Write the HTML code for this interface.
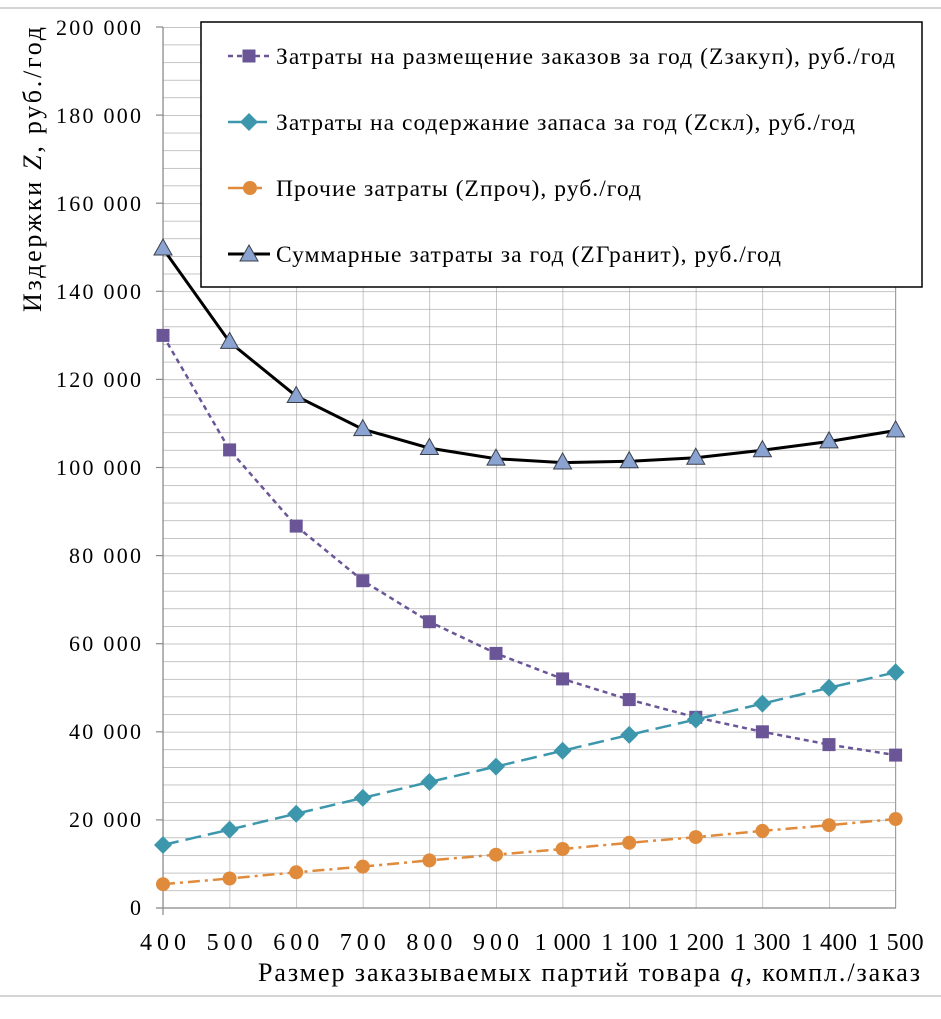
<!DOCTYPE html>
<html><head><meta charset="utf-8"><style>
html,body{margin:0;padding:0;background:#fff}
text{font-family:"Liberation Serif",serif;fill:#000}
</style></head><body>
<svg width="941" height="1014" viewBox="0 0 941 1014" xmlns="http://www.w3.org/2000/svg">
<defs>
<pattern id="g" x="163" y="908" width="66.6" height="17.62" patternUnits="userSpaceOnUse">
<path d="M0 0H66.6M0 0V17.62" stroke="#a0a0a0" stroke-width="1.2" fill="none"/>
</pattern>
</defs>
<line x1="0" y1="8" x2="941" y2="8" stroke="#aaa" stroke-width="1"/>
<line x1="0" y1="996" x2="941" y2="996" stroke="#aaa" stroke-width="1"/>
<rect x="163" y="27" width="732.6" height="881" fill="url(#g)"/>
<line x1="895.6" y1="27" x2="895.6" y2="908" stroke="#a0a0a0" stroke-width="1.2"/>
<line x1="163" y1="27" x2="163" y2="915" stroke="#888" stroke-width="1.2"/>
<line x1="156" y1="908" x2="896" y2="908" stroke="#888" stroke-width="1.2"/>
<g stroke="#888" stroke-width="1.2">
<line x1="156" y1="27" x2="163" y2="27"/><line x1="156" y1="115.1" x2="163" y2="115.1"/><line x1="156" y1="203.2" x2="163" y2="203.2"/><line x1="156" y1="291.3" x2="163" y2="291.3"/><line x1="156" y1="379.4" x2="163" y2="379.4"/><line x1="156" y1="467.5" x2="163" y2="467.5"/><line x1="156" y1="555.6" x2="163" y2="555.6"/><line x1="156" y1="643.7" x2="163" y2="643.7"/><line x1="156" y1="731.8" x2="163" y2="731.8"/><line x1="156" y1="819.9" x2="163" y2="819.9"/>
</g>
<g font-size="22" text-anchor="end">
<text x="141" y="35" textLength="85">200 000</text><text x="141" y="123" textLength="85">180 000</text><text x="141" y="211" textLength="85">160 000</text><text x="141" y="299" textLength="85">140 000</text><text x="141" y="387" textLength="85">120 000</text><text x="141" y="475" textLength="85">100 000</text><text x="141" y="563" textLength="72">80 000</text><text x="141" y="651" textLength="72">60 000</text><text x="141" y="739" textLength="72">40 000</text><text x="141" y="827" textLength="72">20 000</text><text x="141" y="915">0</text>
</g>
<g font-size="24" text-anchor="middle">
<text x="163" y="950" textLength="46">400</text><text x="229.6" y="950" textLength="46">500</text><text x="296.2" y="950" textLength="46">600</text><text x="362.8" y="950" textLength="46">700</text><text x="429.4" y="950" textLength="46">800</text><text x="496" y="950" textLength="46">900</text><text x="562.6" y="950" textLength="56">1 000</text><text x="629.2" y="950" textLength="56">1 100</text><text x="695.8" y="950" textLength="56">1 200</text><text x="762.4" y="950" textLength="56">1 300</text><text x="829" y="950" textLength="56">1 400</text><text x="895.6" y="950" textLength="56">1 500</text>
</g>
<text x="258" y="981" font-size="26" textLength="662">Размер заказываемых партий товара <tspan font-style="italic">q</tspan>, компл./заказ</text>
<text transform="translate(41,312) rotate(-90)" font-size="26" textLength="285">Издержки <tspan font-style="italic">Z</tspan>, руб./год</text>

<polyline fill="none" stroke="#6a5697" stroke-width="2.5" stroke-dasharray="5,4" points="163,335.4 229.6,449.9 296.2,526.1 362.8,580.7 429.4,621.7 496,653.4 562.6,678.9 629.2,699.6 695.8,717.3 762.4,731.8 829,744.6 895.6,755.1"/>
<g fill="#6a5697">
<rect x="156.5" y="328.9" width="13" height="13"/><rect x="223.1" y="443.4" width="13" height="13"/><rect x="289.7" y="519.6" width="13" height="13"/><rect x="356.3" y="574.2" width="13" height="13"/><rect x="422.9" y="615.2" width="13" height="13"/><rect x="489.5" y="646.9" width="13" height="13"/><rect x="556.1" y="672.4" width="13" height="13"/><rect x="622.7" y="693.1" width="13" height="13"/><rect x="689.3" y="710.8" width="13" height="13"/><rect x="755.9" y="725.3" width="13" height="13"/><rect x="822.5" y="738.1" width="13" height="13"/><rect x="889.1" y="748.6" width="13" height="13"/>
</g>
<polyline fill="none" stroke="#3d97ac" stroke-width="2.5" stroke-dasharray="16,7" points="163,845 229.6,829.6 296.2,813.7 362.8,797.9 429.4,782 496,766.6 562.6,750.7 629.2,734.9 695.8,719.5 762.4,703.6 829,687.8 895.6,672.3"/>
<g fill="#3d97ac">
<path d="M163,836 l9,9 -9,9 -9,-9z"/><path d="M229.6,820.6 l9,9 -9,9 -9,-9z"/><path d="M296.2,804.7 l9,9 -9,9 -9,-9z"/><path d="M362.8,788.9 l9,9 -9,9 -9,-9z"/><path d="M429.4,773 l9,9 -9,9 -9,-9z"/><path d="M496,757.6 l9,9 -9,9 -9,-9z"/><path d="M562.6,741.7 l9,9 -9,9 -9,-9z"/><path d="M629.2,725.9 l9,9 -9,9 -9,-9z"/><path d="M695.8,710.5 l9,9 -9,9 -9,-9z"/><path d="M762.4,694.6 l9,9 -9,9 -9,-9z"/><path d="M829,678.8 l9,9 -9,9 -9,-9z"/><path d="M895.6,663.3 l9,9 -9,9 -9,-9z"/>
</g>
<polyline fill="none" stroke="#e08a3c" stroke-width="2.5" stroke-dasharray="12,5,3,5" points="163,884.2 229.6,878.5 296.2,872.3 362.8,866.6 429.4,860.4 496,854.7 562.6,849 629.2,842.8 695.8,837.1 762.4,830.9 829,825.2 895.6,819"/>
<g fill="#e08a3c">
<circle cx="163" cy="884.2" r="7"/><circle cx="229.6" cy="878.5" r="7"/><circle cx="296.2" cy="872.3" r="7"/><circle cx="362.8" cy="866.6" r="7"/><circle cx="429.4" cy="860.4" r="7"/><circle cx="496" cy="854.7" r="7"/><circle cx="562.6" cy="849" r="7"/><circle cx="629.2" cy="842.8" r="7"/><circle cx="695.8" cy="837.1" r="7"/><circle cx="762.4" cy="830.9" r="7"/><circle cx="829" cy="825.2" r="7"/><circle cx="895.6" cy="819" r="7"/>
</g>
<polyline fill="none" stroke="#000" stroke-width="3" points="163,248.6 229.6,342 296.2,396.1 362.8,429.2 429.4,448.1 496,458.7 562.6,462.6 629.2,461.3 695.8,457.8 762.4,450.3 829,441.5 895.6,430.5"/>
<g fill="#8aa3d0" stroke="#3a3f4a" stroke-width="1">
<path d="M163,239 l9,16 h-18z"/><path d="M229.6,332.4 l9,16 h-18z"/><path d="M296.2,386.5 l9,16 h-18z"/><path d="M362.8,419.6 l9,16 h-18z"/><path d="M429.4,438.5 l9,16 h-18z"/><path d="M496,449.1 l9,16 h-18z"/><path d="M562.6,453 l9,16 h-18z"/><path d="M629.2,451.7 l9,16 h-18z"/><path d="M695.8,448.2 l9,16 h-18z"/><path d="M762.4,440.7 l9,16 h-18z"/><path d="M829,431.9 l9,16 h-18z"/><path d="M895.6,420.9 l9,16 h-18z"/>
</g>
<rect x="201" y="22" width="721" height="265" fill="#fff" stroke="#000" stroke-width="1.5"/>
<g font-size="23.5">
<line x1="228" y1="56" x2="270" y2="56" stroke="#6a5697" stroke-width="2.5" stroke-dasharray="5,4"/>
<rect x="242.5" y="49.5" width="13" height="13" fill="#6a5697"/>
<text x="276" y="64" textLength="619">Затраты на размещение заказов за год (Zзакуп), руб./год</text>
<line x1="228" y1="122" x2="270" y2="122" stroke="#3d97ac" stroke-width="2.5" stroke-dasharray="16,7"/>
<path d="M249,113 l9,9 -9,9 -9,-9z" fill="#3d97ac"/>
<text x="276" y="130" textLength="579">Затраты на содержание запаса за год (Zскл), руб./год</text>
<line x1="228" y1="188" x2="262" y2="188" stroke="#e08a3c" stroke-width="2.5" stroke-dasharray="18,4,3,4"/>
<circle cx="250" cy="188" r="7" fill="#e08a3c"/>
<text x="276" y="196" textLength="365">Прочие затраты (Zпроч), руб./год</text>
<line x1="228" y1="254" x2="270" y2="254" stroke="#000" stroke-width="3"/>
<path d="M249,245 l9,16 h-18z" fill="#8aa3d0" stroke="#3a3f4a"/>
<text x="276" y="262" textLength="505">Суммарные затраты за год (ZГранит), руб./год</text>
</g>
</svg>
</body></html>
